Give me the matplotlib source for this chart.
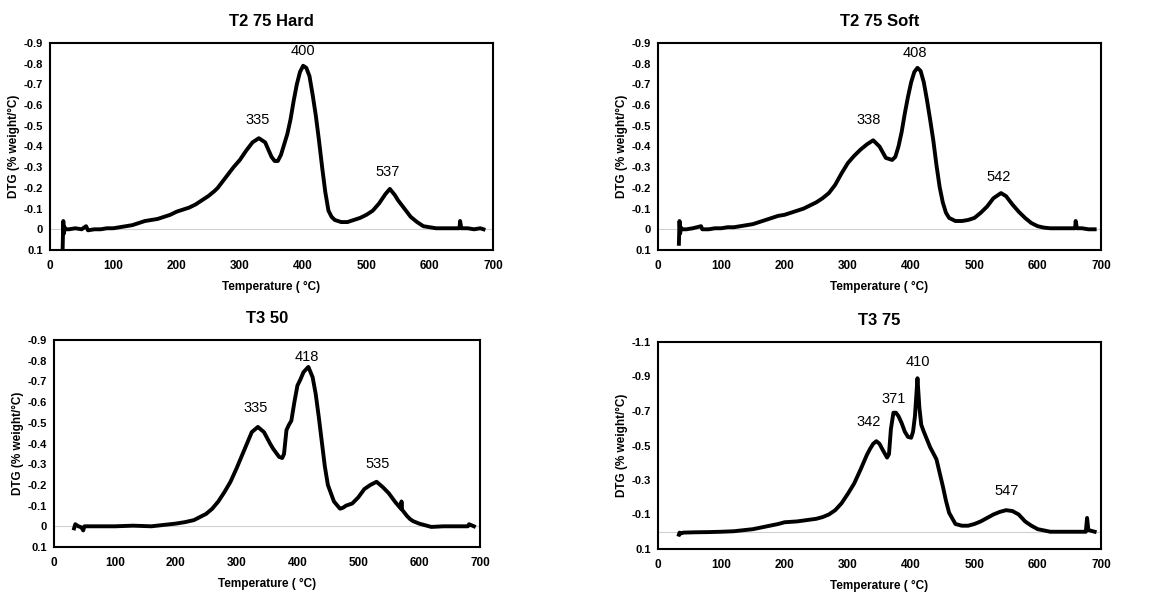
import matplotlib.pyplot as plt

plt.rcParams['font.family'] = ['Liberation Sans', 'DejaVu Sans']

# T2 75 Hard
hard_t = [20, 21, 22, 23, 25, 30, 40, 50, 57, 60, 70, 80, 90, 100, 110, 120, 130, 140, 150, 160,
          170, 180, 190, 200, 210, 220, 230, 240, 250, 260, 265, 270, 280, 290, 300, 310, 320, 330,
          340, 350, 355, 360, 365, 370, 375, 380, 385, 390, 395, 400, 405, 410, 415, 420, 425, 430,
          435, 440, 445, 450, 460, 470, 480, 490, 500, 510, 520, 530, 537, 545, 550, 560, 570, 580,
          590, 600, 610, 620, 630, 640, 647, 648, 650, 660, 670, 680, 685]
hard_v = [0.09, -0.04, 0.02, -0.01, 0.0, 0.0, -0.005, 0.0, -0.015, 0.005, 0.0, 0.0, -0.005, -0.005,
          -0.01, -0.015, -0.02, -0.03, -0.04, -0.045, -0.05, -0.06, -0.07, -0.085, -0.095, -0.105,
          -0.12, -0.14, -0.16, -0.185, -0.2, -0.22, -0.26, -0.3, -0.335, -0.38, -0.42, -0.44, -0.42,
          -0.35, -0.33, -0.33, -0.36, -0.41, -0.46, -0.53, -0.62, -0.7, -0.76, -0.79, -0.78, -0.74,
          -0.65, -0.55, -0.43, -0.3, -0.18, -0.09, -0.06, -0.045, -0.035, -0.035, -0.045, -0.055,
          -0.07, -0.09, -0.125, -0.17, -0.195, -0.165, -0.14, -0.1, -0.06, -0.035, -0.015, -0.01,
          -0.005, -0.005, -0.005, -0.005, -0.005, -0.04, -0.005, -0.005, 0.0, -0.005, 0.0]

# T2 75 Soft
soft_t = [33, 34, 35, 36, 38, 45, 55, 68, 70, 80, 90, 100, 110, 120, 130, 140, 150, 160, 170, 180,
          190, 200, 210, 220, 230, 240, 250, 260, 270, 280, 290, 300, 310, 320, 330, 340, 350, 360,
          370, 375, 380, 385, 390, 395, 400, 405, 410, 415, 420, 425, 430, 435, 440, 445, 450, 455,
          460, 470, 480, 490, 500, 510, 520, 530, 542, 550, 560, 570, 580, 590, 600, 610, 620, 630,
          640, 650, 659, 660, 662, 670, 680, 690]
soft_v = [0.07, -0.04, 0.02, -0.01, 0.0, 0.0, -0.005, -0.015, 0.0, 0.0, -0.005, -0.005, -0.01,
          -0.01, -0.015, -0.02, -0.025, -0.035, -0.045, -0.055, -0.065, -0.07, -0.08, -0.09, -0.1,
          -0.115, -0.13, -0.15, -0.175, -0.215, -0.27, -0.32, -0.355, -0.385, -0.41, -0.43, -0.4,
          -0.345, -0.335, -0.35, -0.4, -0.47, -0.56, -0.64, -0.71, -0.76, -0.78, -0.765, -0.71,
          -0.625, -0.53, -0.43, -0.31, -0.205, -0.13, -0.08, -0.055, -0.04, -0.04, -0.045, -0.055,
          -0.08, -0.11, -0.15, -0.175, -0.16, -0.12, -0.085, -0.055, -0.03, -0.015, -0.008, -0.005,
          -0.005, -0.005, -0.005, -0.005, -0.04, -0.005, -0.005, 0.0, 0.0]

# T3 50
t350_t = [33, 35, 40, 45, 48, 50, 60, 80, 100, 130, 160, 200, 215, 230, 240, 250, 260, 270, 280,
          290, 300, 310, 320, 325, 335, 345, 355, 360, 370, 375, 378, 382, 386, 390, 395, 400,
          405, 410, 418, 425, 430, 435, 440, 445, 450, 455, 460, 470, 475, 480, 490, 495, 500,
          510, 520, 530, 540, 550, 555, 560, 570, 571, 572, 580, 585, 590, 600, 610, 620, 640,
          660, 680, 682, 690]
t350_v = [0.01, -0.01, 0.0, 0.005, 0.02, 0.0, 0.0, 0.0, 0.0, -0.003, 0.0, -0.013, -0.02, -0.03,
          -0.045, -0.06, -0.085, -0.12, -0.165, -0.215, -0.28, -0.35, -0.42, -0.455, -0.48, -0.455,
          -0.4, -0.375, -0.335, -0.33, -0.35, -0.465, -0.49, -0.51, -0.6, -0.68, -0.71, -0.745,
          -0.77, -0.72, -0.64, -0.53, -0.41, -0.29, -0.2, -0.16, -0.12, -0.085, -0.09, -0.1, -0.11,
          -0.125, -0.14, -0.18, -0.2, -0.215, -0.19, -0.16, -0.14, -0.12, -0.085, -0.12, -0.08,
          -0.05, -0.035, -0.025, -0.013, -0.005, 0.003, 0.0, 0.0, 0.0, -0.01, 0.0]

# T3 75
t375_t = [33, 34, 36, 40, 60, 80, 100, 120, 150, 170, 190, 200, 220, 250, 260, 270, 280, 290, 300,
          310, 320, 330, 335, 340, 345, 350, 355, 362, 365, 368, 372, 376, 380, 385, 390, 395, 400,
          403, 406, 410, 413, 416, 420, 425, 430, 440, 450, 455, 460, 470, 480, 490, 500, 510, 520,
          530, 540, 550, 560, 565, 570, 580, 590, 600, 620, 640, 660, 676, 678, 680, 690]
t375_v = [0.017, 0.005, 0.01, 0.005, 0.003, 0.002, 0.0, -0.003, -0.015, -0.03, -0.045, -0.055,
          -0.06, -0.075, -0.085, -0.1, -0.125, -0.165, -0.22, -0.28, -0.36, -0.445, -0.48, -0.51,
          -0.525, -0.51, -0.475, -0.43, -0.45, -0.595, -0.69, -0.69, -0.67, -0.63, -0.58, -0.55,
          -0.545, -0.58, -0.67, -0.89, -0.72, -0.62, -0.58, -0.535, -0.49, -0.42, -0.265, -0.18,
          -0.11, -0.045, -0.035, -0.035, -0.045, -0.06, -0.08, -0.1, -0.115, -0.125, -0.12, -0.11,
          -0.1, -0.06, -0.035, -0.015, 0.0, 0.0, 0.0, 0.0, -0.08, -0.01, 0.0]

titles = ['T2 75 Hard', 'T2 75 Soft', 'T3 50', 'T3 75']
temps = [hard_t, soft_t, t350_t, t375_t]
vals = [hard_v, soft_v, t350_v, t375_v]

# peak labels: (text, x, y)
peaks = [
    [('335', 328, -0.53), ('400', 400, -0.86), ('537', 533, -0.275)],
    [('338', 333, -0.526), ('408', 406, -0.85), ('542', 539, -0.255)],
    [('335', 332, -0.57), ('418', 415, -0.82), ('535', 532, -0.30)],
    [('342', 333, -0.636), ('371', 373, -0.77), ('410', 410, -0.985), ('547', 551, -0.234)],
]

yticks_a = [-0.9, -0.8, -0.7, -0.6, -0.5, -0.4, -0.3, -0.2, -0.1, 0, 0.1]
ylabels_a = ['-0.9', '-0.8', '-0.7', '-0.6', '-0.5', '-0.4', '-0.3', '-0.2', '-0.1', '0', '0.1']
yticks_b = [-1.1, -0.9, -0.7, -0.5, -0.3, -0.1, 0.1]
ylabels_b = ['-1.1', '-0.9', '-0.7', '-0.5', '-0.3', '-0.1', '0.1']
xticks = [0, 100, 200, 300, 400, 500, 600, 700]

# axes boxes in figure pixels (left, top, right, bottom)
W, H = 1168, 596
boxes = [(50, 43, 493, 250), (658, 43, 1101, 250), (54, 340, 480, 547), (658, 342, 1101, 549)]

fig = plt.figure(figsize=(W / 100, H / 100), dpi=100)
for i in range(4):
    l, t, r, b = boxes[i]
    ax = fig.add_axes([l / W, 1 - b / H, (r - l) / W, (b - t) / H])
    ax.axhline(0, color='#d0d0d0', lw=0.8, zorder=1)
    ax.plot(temps[i], vals[i], color='black', lw=2.8, zorder=2)
    if i == 3:
        ax.set_ylim(0.1, -1.1)
        ax.set_yticks(yticks_b)
        ax.set_yticklabels(ylabels_b)
    else:
        ax.set_ylim(0.1, -0.9)
        ax.set_yticks(yticks_a)
        ax.set_yticklabels(ylabels_a)
    ax.set_xlim(0, 700)
    ax.set_xticks(xticks)
    ax.tick_params(axis='x', length=0, labelsize=8.5, pad=7)
    ax.tick_params(axis='y', length=0, labelsize=8, pad=5)
    for lab in ax.get_xticklabels() + ax.get_yticklabels():
        lab.set_fontweight('bold')
    for s in ax.spines.values():
        s.set_linewidth(1.5)
    ax.set_title(titles[i], fontsize=12, fontweight='bold', pad=12)
    ax.set_xlabel('Temperature ( °C)', fontsize=8.5, fontweight='bold', labelpad=7)
    ax.set_ylabel('DTG (% weight/°C)', fontsize=8.5, fontweight='bold', labelpad=3)
    for txt, x, y in peaks[i]:
        ax.text(x, y, txt, ha='center', va='center', fontsize=10.5)

fig.savefig('out.png', dpi=100)
